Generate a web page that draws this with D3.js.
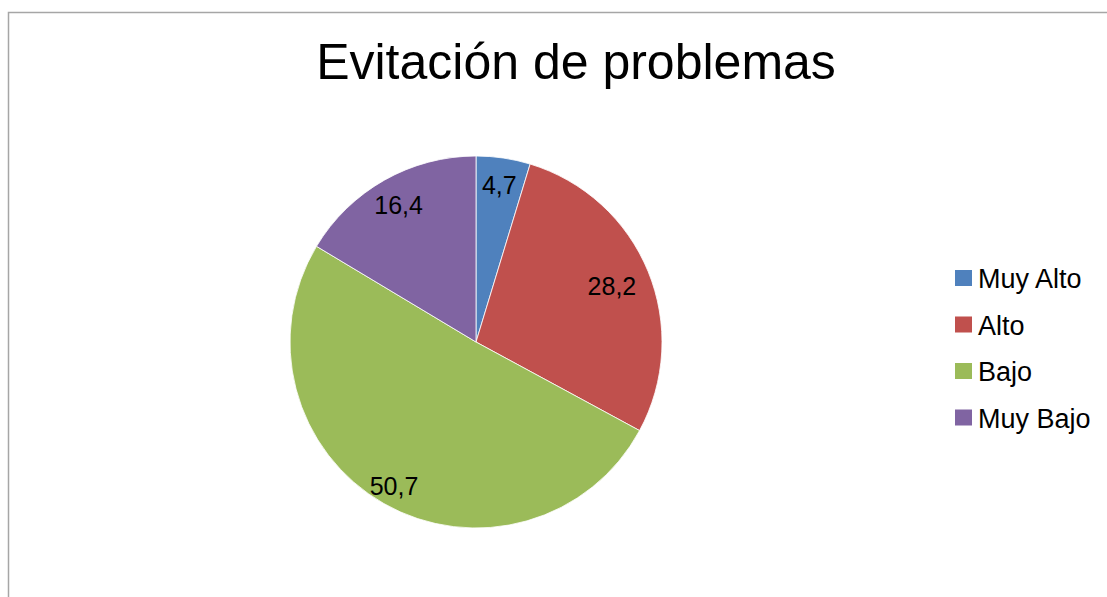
<!DOCTYPE html>
<html>
<head>
<meta charset="utf-8">
<script src="https://cdn.jsdelivr.net/npm/d3@7"></script>
<style>
  html, body { margin: 0; padding: 0; background: #fff; }
  svg { display: block; }
</style>
</head>
<body>
<svg id="chart" width="1107" height="597"></svg>
<script>
// ---- data ----
const categories = ["Muy Alto", "Alto", "Bajo", "Muy Bajo"];
const values = [4.7, 28.2, 50.7, 16.4];
const valueLabels = ["4,7", "28,2", "50,7", "16,4"];
const title = "Evitación de problemas";

// ---- styling / layout ----
const colors = ["#4F81BD", "#C0504D", "#9BBB59", "#8064A2"];
const labelRadiusFactor = [0.85, 0.79, 0.89, 0.845];
const W = 1107, H = 597;
const cx = 476, cy = 342, R = 186;
const font = "Liberation Sans, Arial, Helvetica, sans-serif";

const svg = d3.select("#chart");

// frame (top and left edges visible)
svg.append("path")
  .attr("d", `M8.5,${H} L8.5,12.5 L${W},12.5`)
  .attr("fill", "none")
  .attr("stroke", "#a6a6a6")
  .attr("stroke-width", 1.5);

// title
svg.append("text")
  .attr("x", 576)
  .attr("y", 79)
  .attr("text-anchor", "middle")
  .attr("font-family", font)
  .attr("font-size", 50)
  .attr("fill", "#000")
  .text(title);

const data = categories.map((c, i) => ({ cat: c, value: values[i], label: valueLabels[i], i }));

const pie = d3.pie().value(d => d.value).sort(null);
const arcs = pie(data);
const arc = d3.arc().innerRadius(0).outerRadius(R);
const color = d3.scaleOrdinal().domain(categories).range(colors);

const g = svg.append("g").attr("transform", `translate(${cx},${cy})`);

g.selectAll("path.slice")
  .data(arcs)
  .join("path")
  .attr("class", "slice")
  .attr("d", arc)
  .attr("fill", d => color(d.data.cat))
  .attr("stroke", "#ffffff")
  .attr("stroke-width", 0.8);

g.selectAll("text.lbl")
  .data(arcs)
  .join("text")
  .attr("class", "lbl")
  .attr("transform", d => {
    const a = (d.startAngle + d.endAngle) / 2;
    const r = R * labelRadiusFactor[d.data.i];
    return `translate(${Math.sin(a) * r},${-Math.cos(a) * r})`;
  })
  .attr("text-anchor", "middle")
  .attr("dy", "0.35em")
  .attr("font-family", font)
  .attr("font-size", 25)
  .attr("fill", "#000")
  .text(d => d.data.label);

// legend
const legend = svg.append("g").attr("transform", "translate(955,278)");
const rowH = 46.5;
const items = legend.selectAll("g.item")
  .data(categories)
  .join("g")
  .attr("class", "item")
  .attr("transform", (d, i) => `translate(0,${i * rowH})`);

items.append("rect")
  .attr("x", 0)
  .attr("y", -8)
  .attr("width", 17)
  .attr("height", 16)
  .attr("fill", d => color(d));

items.append("text")
  .attr("x", 23)
  .attr("y", 10)
  .attr("font-family", font)
  .attr("font-size", 27)
  .attr("fill", "#000")
  .text(d => d);
</script>
</body>
</html>
